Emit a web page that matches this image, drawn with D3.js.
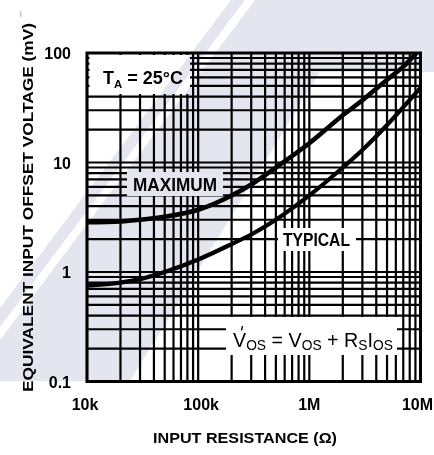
<!DOCTYPE html>
<html><head><meta charset="utf-8">
<script src="https://cdn.jsdelivr.net/npm/d3@7"></script>
<style>body{margin:0;background:#fff} svg{display:block}</style>
</head><body>
<svg id="c" width="434" height="455"></svg>
<script>
// ---- data ----
const xTicks = [1e4, 1e5, 1e6, 1e7];
const xTickLabels = ["10k", "100k", "1M", "10M"];
const yTicks = [0.1, 1, 10, 100];
const yTickLabels = ["0.1", "1", "10", "100"];
const resistance = [1e4, 2e4, 3e4, 5e4, 1e5, 2e5, 3e5, 5e5, 1e6, 2e6, 3e6, 5e6, 7e6, 1e7];
const maximum    = [2.85, 2.9, 3.0, 3.2, 3.7, 5.0, 6.3, 9.0, 15, 27, 37, 57, 75, 110];
const typical    = [0.75, 0.8, 0.86, 1.0, 1.3, 1.8, 2.2, 3.0, 5.0, 9, 13, 22, 32, 48];
const seriesNames = ["MAXIMUM", "TYPICAL"];

const svg = d3.select("#c");
const L = 87, R = 420.5, T = 53, B = 381.5;
const x = d3.scaleLog().domain([1e4, 1e7]).range([L, R]);
const y = d3.scaleLog().domain([0.1, 100]).range([B, T]);
const font = "'Liberation Sans', Arial, sans-serif";

// grid
const gx = [], gy = [];
[1e4, 1e5, 1e6].forEach(d => { for (let k = 1; k <= 9; k++) gx.push(d * k); });
gx.push(1e7);
[0.1, 1, 10].forEach(d => { for (let k = 1; k <= 9; k++) gy.push(d * k); });
gy.push(100);
const grid = svg.append("g").attr("stroke", "#000").attr("stroke-width", 2.2);
grid.selectAll("line.v").data(gx).join("line").attr("class", "v")
  .attr("x1", d => x(d)).attr("x2", d => x(d)).attr("y1", T).attr("y2", B);
grid.selectAll("line.h").data(gy).join("line").attr("class", "h")
  .attr("y1", d => y(d)).attr("y2", d => y(d)).attr("x1", L).attr("x2", R);
svg.append("rect").attr("x", L).attr("y", T).attr("width", R - L).attr("height", B - T)
  .attr("fill", "none").attr("stroke", "#000").attr("stroke-width", 3);

// curves
svg.append("clipPath").attr("id", "pc").append("rect")
  .attr("x", L).attr("y", T).attr("width", R - L).attr("height", B - T);
const line = d3.line().x(d => x(d[0])).y(d => y(d[1])).curve(d3.curveMonotoneX);
const curves = [maximum, typical];
svg.append("g").attr("clip-path", "url(#pc)").selectAll("path").data(curves).join("path")
  .attr("d", vals => line(resistance.map((r, i) => [r, vals[i]])))
  .attr("fill", "none").attr("stroke", "#000")
  .attr("stroke-width", (d, i) => i === 0 ? 4.6 : 4.2);

// label boxes
function box(x0, y0, x1, y1) {
  svg.append("rect").attr("x", x0).attr("y", y0).attr("width", x1 - x0).attr("height", y1 - y0).attr("fill", "#fff");
}
box(89.5, 55, 190, 94);
box(127, 172, 223, 196);
box(278, 228, 356, 251);
box(226, 317, 397, 355);

// T_A label
const ta = svg.append("text").attr("x", 103).attr("y", 84).attr("font-family", font)
  .attr("font-weight", "bold").attr("font-size", 17.5).attr("textLength", 80).attr("lengthAdjust", "spacingAndGlyphs");
ta.append("tspan").text("T");
ta.append("tspan").attr("font-size", 11).attr("dy", 4).text("A");
ta.append("tspan").attr("dy", -4).text(" = 25°C");

svg.append("text").attr("x", 133).attr("y", 190.5).attr("font-family", font).attr("font-weight", "bold")
  .attr("font-size", 17.5).attr("textLength", 84).attr("lengthAdjust", "spacingAndGlyphs").text(seriesNames[0]);
svg.append("text").attr("x", 283).attr("y", 246).attr("font-family", font).attr("font-weight", "bold")
  .attr("font-size", 17.5).attr("textLength", 67).attr("lengthAdjust", "spacingAndGlyphs").text(seriesNames[1]);

// formula
const fm = svg.append("text").attr("x", 233).attr("y", 347).attr("font-family", font)
  .attr("font-size", 20).attr("textLength", 160).attr("lengthAdjust", "spacingAndGlyphs");
fm.append("tspan").text("V");
fm.append("tspan").attr("font-size", 14).attr("dy", 3).text("OS");
fm.append("tspan").attr("dy", -3).text(" = V");
fm.append("tspan").attr("font-size", 14).attr("dy", 3).text("OS");
fm.append("tspan").attr("dy", -3).text(" + R");
fm.append("tspan").attr("font-size", 14).attr("dy", 3).text("S");
fm.append("tspan").attr("font-size", 20).attr("dy", -3).text("I");
fm.append("tspan").attr("font-size", 14).attr("dy", 3).text("OS");
svg.append("line").attr("x1", 242.5).attr("y1", 326).attr("x2", 241.5).attr("y2", 330.5)
  .attr("stroke", "#000").attr("stroke-width", 1.3);

// tick labels
const xNudge = [-2, 3, 0, -3];
svg.selectAll("text.yt").data(yTicks).join("text").attr("class", "yt")
  .attr("x", 71).attr("y", d => y(d) + 6).attr("text-anchor", "end")
  .attr("font-family", font).attr("font-weight", "bold").attr("font-size", 16)
  .text((d, i) => yTickLabels[i]);
svg.selectAll("text.xt").data(xTicks).join("text").attr("class", "xt")
  .attr("x", (d, i) => x(d) + xNudge[i]).attr("y", 410).attr("text-anchor", "middle")
  .attr("font-family", font).attr("font-weight", "bold").attr("font-size", 16)
  .text((d, i) => xTickLabels[i]);

// axis titles
svg.append("text").attr("x", 245).attr("y", 443).attr("text-anchor", "middle")
  .attr("font-family", font).attr("font-weight", "bold").attr("font-size", 15)
  .attr("textLength", 184).attr("lengthAdjust", "spacingAndGlyphs").text("INPUT RESISTANCE (Ω)");
svg.append("text").attr("transform", "translate(33,207.5) rotate(-90)").attr("text-anchor", "middle")
  .attr("font-family", font).attr("font-weight", "bold").attr("font-size", 15.5)
  .attr("textLength", 369).attr("lengthAdjust", "spacingAndGlyphs").text("EQUIVALENT INPUT OFFSET VOLTAGE (mV)");
svg.append("rect").attr("x", 20).attr("y", 11).attr("width", 1.5).attr("height", 6).attr("fill", "#c8c8c8");

// watermark (multiplied over everything)
const wm = svg.append("g").style("mix-blend-mode", "multiply").attr("fill", "#e3e6ef");
wm.append("polygon").attr("points", "255,0 434,0 434,72 320,72 130,381 0,381 0,340");
wm.append("polygon").attr("points", "231,0 245,0 0,327 0,308");
</script>
</body></html>
